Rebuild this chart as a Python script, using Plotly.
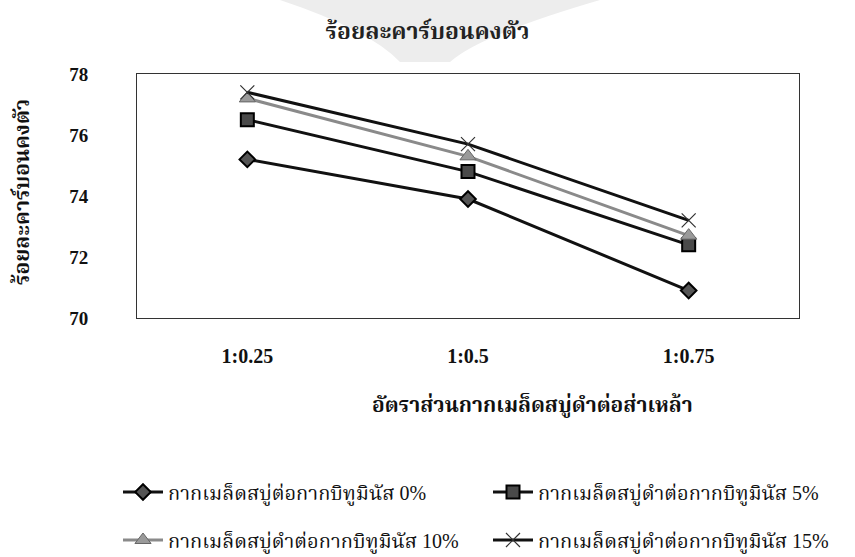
import plotly.graph_objects as go

# Mix ratio of jatropha seed cake to distillery slop
ratios = ["1:0.25", "1:0.5", "1:0.75"]

# Fixed-carbon percentage for each bituminous-residue share
fixed_c_0 = [75.2, 73.9, 70.9]
fixed_c_5 = [76.5, 74.8, 72.4]
fixed_c_10 = [77.2, 75.3, 72.7]
fixed_c_15 = [77.4, 75.7, 73.2]

series_names = [
    "กากเมล็ดสบู่ต่อกากบิทูมินัส 0%",
    "กากเมล็ดสบู่ดำต่อกากบิทูมินัส 5%",
    "กากเมล็ดสบู่ดำต่อกากบิทูมินัส 10%",
    "กากเมล็ดสบู่ดำต่อกากบิทูมินัส 15%",
]

TITLE = "ร้อยละคาร์บอนคงตัว"
X_TITLE = "อัตราส่วนกากเมล็ดสบู่ดำต่อส่าเหล้า"
Y_TITLE = "ร้อยละคาร์บอนคงตัว"

FONT = "Liberation Serif, Noto Serif Thai, Noto Sans Thai, Loma, Norasi, serif"

W, H = 855, 557
ML, MR, MT, MB = 137, 56, 74, 239


def px_x(px):
    return (px - ML) / (W - ML - MR)


def px_y(py):
    return (H - MB - py) / (H - MT - MB)


fig = go.Figure()

styles = [
    dict(values=fixed_c_0, line=dict(color="#111111", width=3),
         marker=dict(symbol="diamond", size=12, color="#555555",
                     line=dict(color="#000000", width=2))),
    dict(values=fixed_c_5, line=dict(color="#111111", width=3),
         marker=dict(symbol="square", size=13, color="#4a4a4a",
                     line=dict(color="#000000", width=2))),
    dict(values=fixed_c_10, line=dict(color="#8a8a8a", width=3),
         marker=dict(symbol="triangle-up", size=14, color="#9a9a9a",
                     line=dict(color="#666666", width=1))),
    dict(values=fixed_c_15, line=dict(color="#111111", width=3),
         marker=dict(symbol="x-thin", size=14, color="#333333",
                     line=dict(color="#333333", width=1.2))),
]

# one legend box per entry, laid out as a 2 x 2 grid under the chart
legend_ids = ["legend", "legend2", "legend3", "legend4"]
legend_pos = [(118, 492), (488, 492), (118, 540), (488, 540)]

for name, st, lid in zip(series_names, styles, legend_ids):
    fig.add_trace(go.Scatter(
        x=ratios, y=st["values"], name=name, mode="lines+markers",
        line=st["line"], marker=st["marker"], legend=lid,
    ))

legend_layout = {}
for lid, (lx, ly) in zip(legend_ids, legend_pos):
    legend_layout[lid] = dict(
        orientation="h", x=px_x(lx), xanchor="left",
        y=px_y(ly), yanchor="middle",
        font=dict(size=20, family=FONT, color="#111111"),
        itemwidth=40, bgcolor="rgba(0,0,0,0)",
    )

# faint grey backdrop behind the heading
fig.add_shape(
    type="path", xref="paper", yref="paper", layer="below",
    path=(f"M {px_x(280)},{px_y(0)} L {px_x(600)},{px_y(0)} "
          f"Q {px_x(480)},{px_y(35)} {px_x(450)},{px_y(62)} "
          f"L {px_x(400)},{px_y(62)} "
          f"Q {px_x(370)},{px_y(30)} {px_x(280)},{px_y(0)} Z"),
    fillcolor="#ededed", line=dict(width=0),
)

# axis titles placed as free text
fig.add_annotation(
    text=f"<b>{X_TITLE}</b>", xref="paper", yref="paper",
    x=px_x(532), y=px_y(405), xanchor="center", yanchor="middle",
    showarrow=False, font=dict(size=21, family=FONT, color="#111111"),
)
fig.add_annotation(
    text=f"<b>{Y_TITLE}</b>", xref="paper", yref="paper",
    x=px_x(22), y=px_y(192), xanchor="center", yanchor="middle",
    textangle=-90, showarrow=False,
    font=dict(size=21, family=FONT, color="#111111"),
)

fig.update_layout(
    width=W, height=H,
    margin=dict(l=ML, r=MR, t=MT, b=MB, autoexpand=False),
    paper_bgcolor="white", plot_bgcolor="white",
    font=dict(family=FONT, color="#111111", size=16),
    title=dict(text=f"<b>{TITLE}</b>", x=0.5, xanchor="center",
               xref="container", y=1 - 31 / H, yanchor="middle",
               font=dict(size=23, color="#222222")),
    xaxis=dict(
        range=[-0.5, 2.5], showgrid=False, ticks="", automargin=False,
        showline=True, linecolor="#333333", linewidth=1, mirror=True,
        tickfont=dict(size=20, family=FONT, color="#111111"),
        ticklabelstandoff=20, tickprefix="<b>", ticksuffix="</b>",
    ),
    yaxis=dict(
        range=[70, 78], dtick=2, showgrid=False, ticks="", automargin=False,
        showline=True, linecolor="#333333", linewidth=1, mirror=True,
        tickfont=dict(size=19, family=FONT, color="#111111"),
        ticklabelstandoff=44, tickprefix="<b>", ticksuffix="</b>",
    ),
    showlegend=True,
    **legend_layout,
)

fig.write_html("out.html")
